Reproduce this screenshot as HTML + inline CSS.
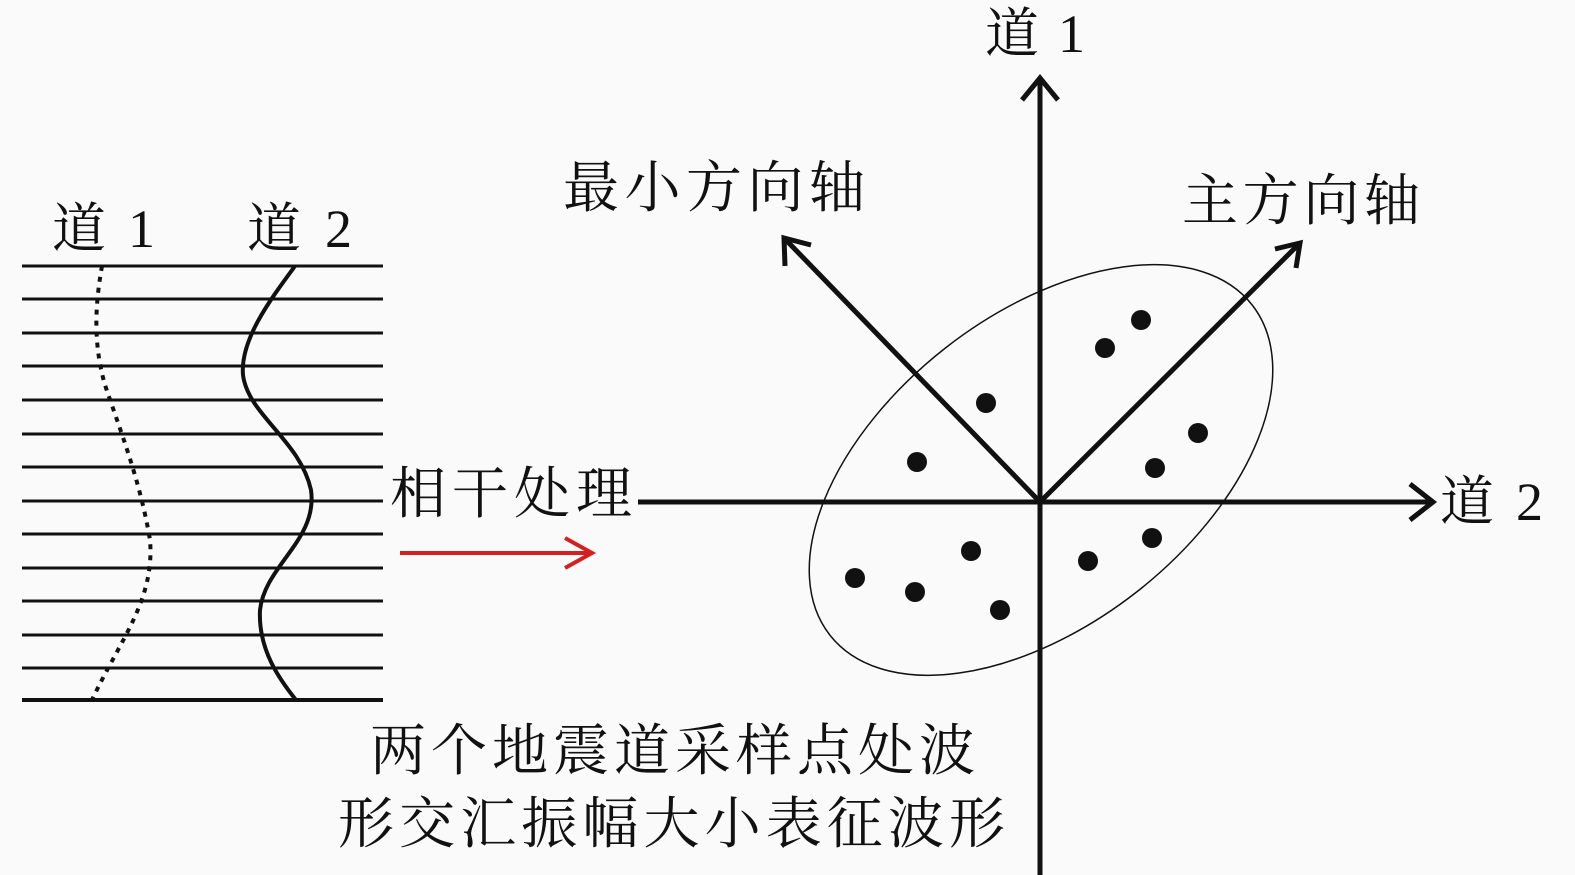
<!DOCTYPE html>
<html><head><meta charset="utf-8"><style>
html,body{margin:0;padding:0;background:#fafafa;}
svg{display:block;}
text{font-family:"Liberation Serif","Noto Serif CJK SC",serif;fill:#111;}
</style></head><body>
<svg width="1575" height="875" viewBox="0 0 1575 875" xmlns="http://www.w3.org/2000/svg">
<rect width="1575" height="875" fill="#fafafa"/>
<g stroke="#111" stroke-width="3">
<line x1="22" y1="266" x2="383" y2="266"/><line x1="22" y1="299" x2="383" y2="299"/>
<line x1="22" y1="333" x2="383" y2="333"/><line x1="22" y1="366" x2="383" y2="366"/>
<line x1="22" y1="400" x2="383" y2="400"/><line x1="22" y1="434" x2="383" y2="434"/>
<line x1="22" y1="467" x2="383" y2="467"/><line x1="22" y1="501" x2="383" y2="501"/>
<line x1="22" y1="534" x2="383" y2="534"/><line x1="22" y1="568" x2="383" y2="568"/>
<line x1="22" y1="601" x2="383" y2="601"/><line x1="22" y1="635" x2="383" y2="635"/>
<line x1="22" y1="668" x2="383" y2="668"/><line x1="22" y1="700" x2="383" y2="700" stroke-width="4"/>
</g>
<path d="M102,266 C96,300 92,340 105,385 C120,430 140,480 150,540 C155,600 120,640 92,700" fill="none" stroke="#111" stroke-width="4" stroke-dasharray="5,6"/>
<path d="M295,266 C270,300 240,340 243,375 C248,415 300,440 311,490 C318,540 265,565 260,610 C258,650 280,680 296,700" fill="none" stroke="#111" stroke-width="4"/>
<text x="52" y="247" font-size="54" textLength="103" lengthAdjust="spacing">道 1</text>
<text x="247" y="247" font-size="54" textLength="105" lengthAdjust="spacing">道 2</text>
<text x="390" y="513" font-size="56" textLength="242" lengthAdjust="spacing">相干处理</text>
<line x1="400" y1="553" x2="590" y2="553" stroke="#d42020" stroke-width="4"/>
<path d="M565,538 L592,553 L565,568" fill="none" stroke="#d42020" stroke-width="4"/>
<ellipse cx="1041" cy="470" rx="268" ry="155" transform="rotate(-38 1041 470)" fill="none" stroke="#111" stroke-width="1.5"/>
<g stroke="#111" stroke-width="5" fill="none">
<line x1="1040" y1="80" x2="1040" y2="875"/>
<path d="M1022,100 L1040,78 L1058,100"/>
<line x1="638" y1="502" x2="1432" y2="502"/>
<path d="M1410,484 L1433,502 L1410,520"/>
<line x1="1040" y1="502" x2="1298" y2="245"/>
<path d="M1275,249 L1300,243 L1296,268"/>
<line x1="1040" y1="502" x2="786" y2="240"/>
<path d="M785,266 L784,238 L811,245"/>
</g>
<g fill="#111">
<circle cx="1141" cy="320" r="10"/><circle cx="1105" cy="348" r="10"/>
<circle cx="986" cy="403" r="10"/><circle cx="917" cy="462" r="10"/>
<circle cx="1198" cy="433" r="10"/><circle cx="1155" cy="468" r="10"/>
<circle cx="1152" cy="538" r="10"/><circle cx="1088" cy="561" r="10"/>
<circle cx="971" cy="551" r="10"/><circle cx="855" cy="578" r="10"/>
<circle cx="915" cy="592" r="10"/><circle cx="1000" cy="610" r="10"/>
</g>
<text x="985" y="52" font-size="54" textLength="100" lengthAdjust="spacing">道 1</text>
<text x="1440" y="520" font-size="54" textLength="103" lengthAdjust="spacing">道 2</text>
<text x="563" y="207" font-size="56" textLength="302" lengthAdjust="spacing">最小方向轴</text>
<text x="1182" y="220" font-size="56" textLength="238" lengthAdjust="spacing">主方向轴</text>
<text x="370" y="770" font-size="56" textLength="605" lengthAdjust="spacing">两个地震道采样点处波</text>
<text x="338" y="843" font-size="56" textLength="667" lengthAdjust="spacing">形交汇振幅大小表征波形</text>
</svg>
</body></html>
